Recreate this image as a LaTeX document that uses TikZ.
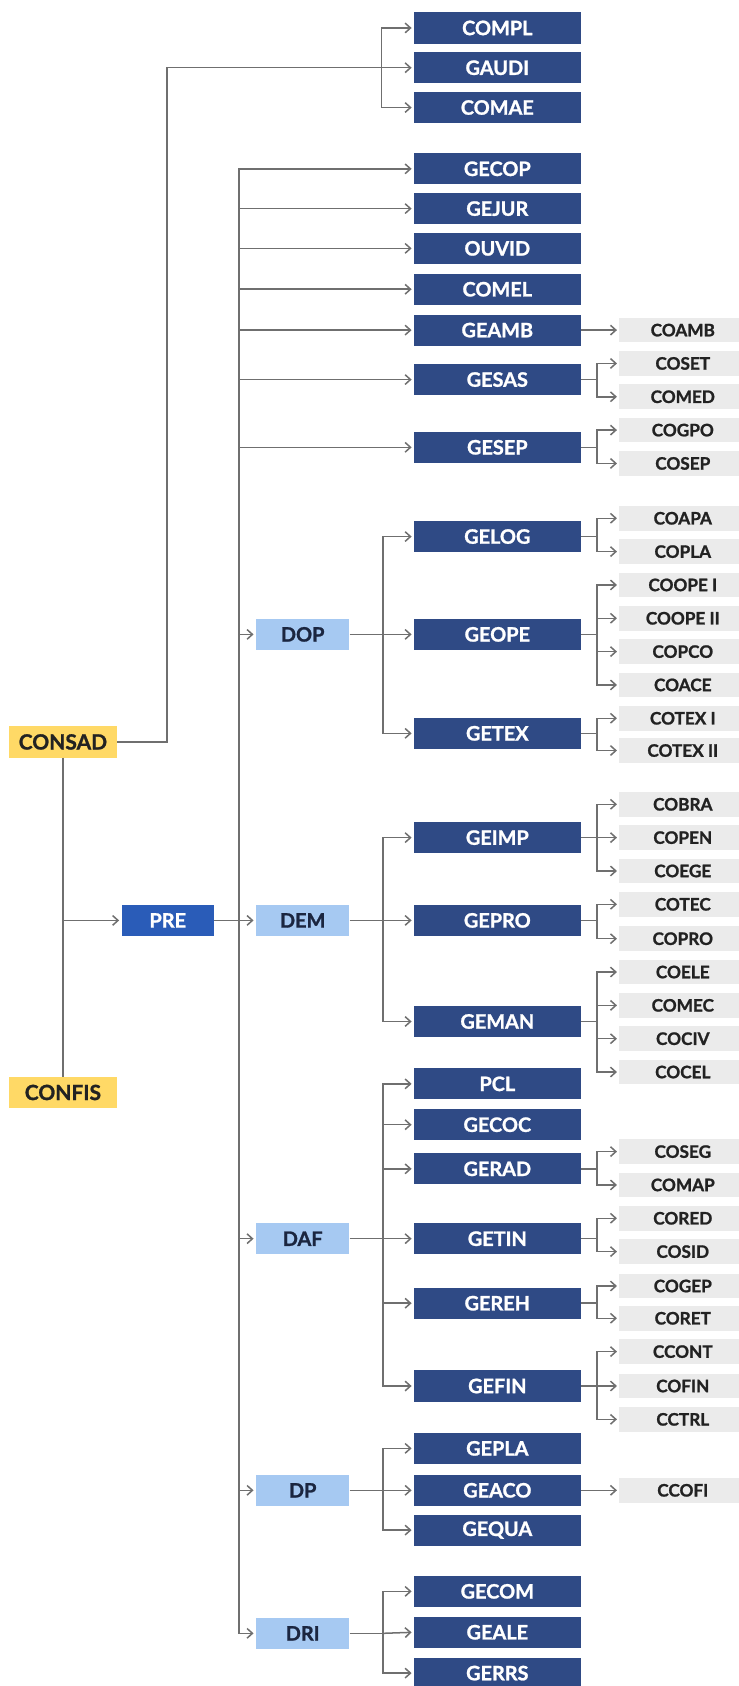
\documentclass[tikz,border=0pt]{standalone}
\usepackage{fontspec}
\setmainfont{Lato}[BoldFeatures={FakeBold=1.2}]
\usetikzlibrary{arrows.meta}
\definecolor{navy}{HTML}{2F4A85}
\definecolor{preblue}{HTML}{2A5CB8}
\definecolor{lightblue}{HTML}{A6C9F2}
\definecolor{gold}{HTML}{FFD966}
\definecolor{greybox}{HTML}{EBEBEB}
\definecolor{darktext}{HTML}{222222}
\definecolor{navytext}{HTML}{1B2640}
\definecolor{linegray}{HTML}{6F6F6F}
\begin{document}
\begin{tikzpicture}[x=1pt, y=-1pt,
  every node/.style={inner sep=0pt},
  gebox/.style={fill=navy, text=white, minimum width=155pt, minimum height=29pt, font=\bfseries\fontsize{18.5}{19}\selectfont},
  cobox/.style={fill=greybox, text=darktext, minimum width=118pt, minimum height=23pt, font=\bfseries\fontsize{16}{16}\selectfont},
  dirbox/.style={fill=lightblue, text=navytext, minimum width=87pt, minimum height=29pt, font=\bfseries\fontsize{18.5}{19}\selectfont},
  prebox/.style={fill=preblue, text=white, minimum width=86pt, minimum height=29pt, font=\bfseries\fontsize{18.5}{19}\selectfont},
  conbox/.style={fill=gold, text=darktext, minimum width=101pt, minimum height=29pt, font=\bfseries\fontsize{19.5}{20}\selectfont},
  link/.style={draw=linegray, line width=1.4pt},
  arr/.style={link, -{Straight Barb[length=5pt,width=9pt]}, shorten >=2pt}]
  \useasboundingbox[fill=white] (0,0) rectangle (687,1568);

  % councils and presidency
  \node[conbox] (consad) at (58.5,690) {CONSAD};
  \node[conbox] (confis) at (58.5,1016) {CONFIS};
  \node[prebox] (pre) at (156,856) {PRE};

  % directorates
  \node[dirbox] (dop) at (281.5,590) {DOP};
  \node[dirbox] (dem) at (281.5,856) {DEM};
  \node[dirbox] (daf) at (281.5,1152) {DAF};
  \node[dirbox] (dp) at (281.5,1386) {DP};
  \node[dirbox] (dri) at (281.5,1519) {DRI};

  % managements
  \node[gebox] (compl) at (462.5,26) {COMPL};
  \node[gebox] (gaudi) at (462.5,63) {GAUDI};
  \node[gebox] (comae) at (462.5,100) {COMAE};
  \node[gebox] (gecop) at (462.5,157) {GECOP};
  \node[gebox] (gejur) at (462.5,194) {GEJUR};
  \node[gebox] (ouvid) at (462.5,231) {OUVID};
  \node[gebox] (comel) at (462.5,269) {COMEL};
  \node[gebox] (geamb) at (462.5,307) {GEAMB};
  \node[gebox] (gesas) at (462.5,353) {GESAS};
  \node[gebox] (gesep) at (462.5,416) {GESEP};
  \node[gebox] (gelog) at (462.5,499) {GELOG};
  \node[gebox] (geope) at (462.5,590) {GEOPE};
  \node[gebox] (getex) at (462.5,682) {GETEX};
  \node[gebox] (geimp) at (462.5,779) {GEIMP};
  \node[gebox] (gepro) at (462.5,856) {GEPRO};
  \node[gebox] (geman) at (462.5,950) {GEMAN};
  \node[gebox] (pcl) at (462.5,1008) {PCL};
  \node[gebox] (gecoc) at (462.5,1046) {GECOC};
  \node[gebox] (gerad) at (462.5,1087) {GERAD};
  \node[gebox] (getin) at (462.5,1152) {GETIN};
  \node[gebox] (gereh) at (462.5,1212) {GEREH};
  \node[gebox] (gefin) at (462.5,1289) {GEFIN};
  \node[gebox] (gepla) at (462.5,1347) {GEPLA};
  \node[gebox] (geaco) at (462.5,1386) {GEACO};
  \node[gebox] (gequa) at (462.5,1423) {GEQUA};
  \node[gebox] (gecom) at (462.5,1480) {GECOM};
  \node[gebox] (geale) at (462.5,1518) {GEALE};
  \node[gebox] (gerrs) at (462.5,1556) {GERRS};

  % coordinations
  \node[cobox] (coamb) at (635,307) {COAMB};
  \node[cobox] (coset) at (635,338) {COSET};
  \node[cobox] (comed) at (635,369) {COMED};
  \node[cobox] (cogpo) at (635,400) {COGPO};
  \node[cobox] (cosep) at (635,431) {COSEP};
  \node[cobox] (coapa) at (635,482) {COAPA};
  \node[cobox] (copla) at (635,513) {COPLA};
  \node[cobox] (coope1) at (635,544) {COOPE I};
  \node[cobox] (coope2) at (635,575) {COOPE II};
  \node[cobox] (copco) at (635,606) {COPCO};
  \node[cobox] (coace) at (635,637) {COACE};
  \node[cobox] (cotex1) at (635,668) {COTEX I};
  \node[cobox] (cotex2) at (635,698) {COTEX II};
  \node[cobox] (cobra) at (635,748) {COBRA};
  \node[cobox] (copen) at (635,779) {COPEN};
  \node[cobox] (coege) at (635,810) {COEGE};
  \node[cobox] (cotec) at (635,841) {COTEC};
  \node[cobox] (copro) at (635,873) {COPRO};
  \node[cobox] (coele) at (635,904) {COELE};
  \node[cobox] (comec) at (635,935) {COMEC};
  \node[cobox] (cociv) at (635,966) {COCIV};
  \node[cobox] (cocel) at (635,997) {COCEL};
  \node[cobox] (coseg) at (635,1071) {COSEG};
  \node[cobox] (comap) at (635,1102) {COMAP};
  \node[cobox] (cored) at (635,1133) {CORED};
  \node[cobox] (cosid) at (635,1164) {COSID};
  \node[cobox] (cogep) at (635,1196) {COGEP};
  \node[cobox] (coret) at (635,1226) {CORET};
  \node[cobox] (ccont) at (635,1257) {CCONT};
  \node[cobox] (cofin) at (635,1289) {COFIN};
  \node[cobox] (cctrl) at (635,1320) {CCTRL};
  \node[cobox] (ccofi) at (635,1386) {CCOFI};

  % council links
  \draw[link] (consad) -- (confis);
  \draw[arr] (consad.south |- pre) -- (pre);
  \draw[arr] (consad.east) -- ++(46,0) |- (gaudi.west);
  \draw[arr] (gaudi.west) ++(-30,0) |- (compl.west);
  \draw[arr] (gaudi.west) ++(-30,0) |- (comae.west);

  % presidency links
  \draw[link] (pre.east) -- ++(23,0) coordinate (prebus);
  \draw[arr] (prebus) |- (gecop.west);
  \draw[arr] (prebus) |- (gejur.west);
  \draw[arr] (prebus) |- (ouvid.west);
  \draw[arr] (prebus) |- (comel.west);
  \draw[arr] (prebus) |- (geamb.west);
  \draw[arr] (prebus) |- (gesas.west);
  \draw[arr] (prebus) |- (gesep.west);
  \draw[arr] (prebus) |- (dop.west);
  \draw[arr] (prebus) -- (dem.west);
  \draw[arr] (prebus) |- (daf.west);
  \draw[arr] (prebus) |- (dp.west);
  \draw[arr] (prebus) |- (dri.west);

  % directorate links
  \draw[link] (dop.east) -- ++(31,0) coordinate (dopbus);
  \draw[arr] (dopbus) |- (gelog.west);
  \draw[arr] (dopbus) -- (geope.west);
  \draw[arr] (dopbus) |- (getex.west);
  \draw[link] (dem.east) -- ++(31,0) coordinate (dembus);
  \draw[arr] (dembus) |- (geimp.west);
  \draw[arr] (dembus) -- (gepro.west);
  \draw[arr] (dembus) |- (geman.west);
  \draw[link] (daf.east) -- ++(31,0) coordinate (dafbus);
  \draw[arr] (dafbus) |- (pcl.west);
  \draw[arr] (dafbus) |- (gecoc.west);
  \draw[arr] (dafbus) |- (gerad.west);
  \draw[arr] (dafbus) -- (getin.west);
  \draw[arr] (dafbus) |- (gereh.west);
  \draw[arr] (dafbus) |- (gefin.west);
  \draw[link] (dp.east) -- ++(31,0) coordinate (dpbus);
  \draw[arr] (dpbus) |- (gepla.west);
  \draw[arr] (dpbus) -- (geaco.west);
  \draw[arr] (dpbus) |- (gequa.west);
  \draw[link] (dri.east) -- ++(31,0) coordinate (dribus);
  \draw[arr] (dribus) |- (gecom.west);
  \draw[arr] (dribus) -- (geale.west);
  \draw[arr] (dribus) |- (gerrs.west);

  % management links
  \draw[arr] (geamb.east) -- (coamb.west);
  \draw[arr] (gesas.east) -- ++(15,0) |- (coset.west);
  \draw[arr] (gesas.east) -- ++(15,0) |- (comed.west);
  \draw[arr] (gesep.east) -- ++(15,0) |- (cogpo.west);
  \draw[arr] (gesep.east) -- ++(15,0) |- (cosep.west);
  \draw[arr] (gelog.east) -- ++(15,0) |- (coapa.west);
  \draw[arr] (gelog.east) -- ++(15,0) |- (copla.west);
  \draw[arr] (geope.east) -- ++(15,0) |- (coope1.west);
  \draw[arr] (geope.east) -- ++(15,0) |- (coope2.west);
  \draw[arr] (geope.east) -- ++(15,0) |- (copco.west);
  \draw[arr] (geope.east) -- ++(15,0) |- (coace.west);
  \draw[arr] (getex.east) -- ++(15,0) |- (cotex1.west);
  \draw[arr] (getex.east) -- ++(15,0) |- (cotex2.west);
  \draw[arr] (geimp.east) -- ++(15,0) |- (cobra.west);
  \draw[arr] (geimp.east) -- ++(15,0) |- (copen.west);
  \draw[arr] (geimp.east) -- ++(15,0) |- (coege.west);
  \draw[arr] (gepro.east) -- ++(15,0) |- (cotec.west);
  \draw[arr] (gepro.east) -- ++(15,0) |- (copro.west);
  \draw[arr] (geman.east) -- ++(15,0) |- (coele.west);
  \draw[arr] (geman.east) -- ++(15,0) |- (comec.west);
  \draw[arr] (geman.east) -- ++(15,0) |- (cociv.west);
  \draw[arr] (geman.east) -- ++(15,0) |- (cocel.west);
  \draw[arr] (gerad.east) -- ++(15,0) |- (coseg.west);
  \draw[arr] (gerad.east) -- ++(15,0) |- (comap.west);
  \draw[arr] (getin.east) -- ++(15,0) |- (cored.west);
  \draw[arr] (getin.east) -- ++(15,0) |- (cosid.west);
  \draw[arr] (gereh.east) -- ++(15,0) |- (cogep.west);
  \draw[arr] (gereh.east) -- ++(15,0) |- (coret.west);
  \draw[arr] (gefin.east) -- ++(15,0) |- (ccont.west);
  \draw[arr] (gefin.east) -- ++(15,0) |- (cofin.west);
  \draw[arr] (gefin.east) -- ++(15,0) |- (cctrl.west);
  \draw[arr] (geaco.east) -- (ccofi.west);
\end{tikzpicture}
\end{document}
